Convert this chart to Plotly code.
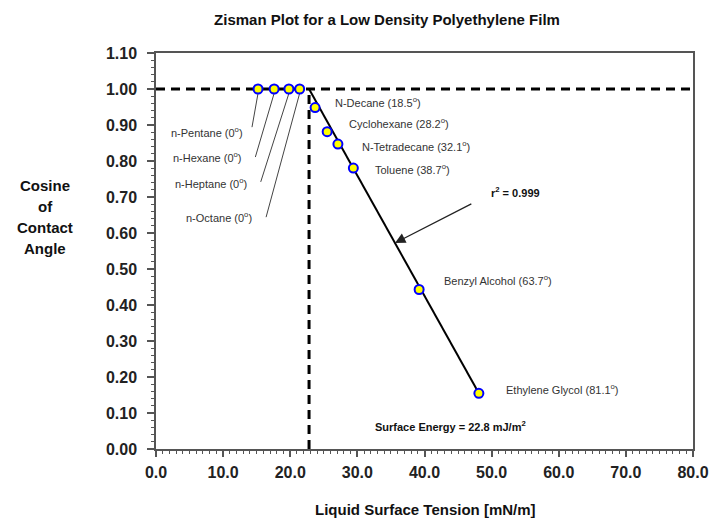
import numpy as np
import plotly.graph_objects as go

# Probe liquids: surface tension (mN/m) and measured contact angle (deg)
alkanes = ["n-Pentane", "n-Hexane", "n-Heptane", "n-Octane"]
alkane_tension = [15.2, 17.6, 19.8, 21.4]
alkane_angle = [0, 0, 0, 0]

liquids = ["N-Decane", "Cyclohexane", "N-Tetradecane", "Toluene",
           "Benzyl Alcohol", "Ethylene Glycol"]
liquid_tension = [23.7, 25.5, 27.1, 29.4, 39.2, 48.1]
liquid_angle = [18.5, 28.2, 32.1, 38.7, 63.7, 81.1]

critical_tension = 22.8   # surface energy, mJ/m^2
r_squared = 0.999

x_ticks = [0, 10, 20, 30, 40, 50, 60, 70, 80]
y_ticks = [0.0, 0.1, 0.2, 0.3, 0.4, 0.5, 0.6, 0.7, 0.8, 0.9, 1.0, 1.1]

alkane_cos = np.cos(np.radians(alkane_angle))
liquid_cos = np.cos(np.radians(liquid_angle))

# Zisman line through the critical tension and the last liquid
slope = (liquid_cos[-1] - 1.0) / (liquid_tension[-1] - critical_tension)
fit_x = [critical_tension, liquid_tension[-1]]
fit_y = [1.0 + slope * (x - critical_tension) for x in fit_x]

FONT = "Arial, 'Liberation Sans', sans-serif"
TXT = "#333333"

# plot area in pixels, used to place the outer titles
PX_L, PX_R, PX_T, PX_B = 156, 693, 53, 449


def px_to_paper(px, py):
    return (px - PX_L) / (PX_R - PX_L), (PX_B - py) / (PX_B - PX_T)


fig = go.Figure()

# reference lines at cos = 1 and at the critical surface tension
fig.add_trace(go.Scatter(x=[0, 80], y=[1.0, 1.0], mode="lines",
                         line=dict(color="black", width=3, dash="9px,6px"),
                         hoverinfo="skip"))
fig.add_trace(go.Scatter(x=[critical_tension, critical_tension], y=[0, 1.0], mode="lines",
                         line=dict(color="black", width=3, dash="9px,6px"),
                         hoverinfo="skip"))

# fitted line
fig.add_trace(go.Scatter(x=fit_x, y=fit_y, mode="lines",
                         line=dict(color="black", width=2), hoverinfo="skip"))

# leader lines from the alkane points to their labels
leader_end_x = [14.3, 14.8, 15.6, 16.4]
leader_end_y = [0.894, 0.811, 0.742, 0.644]
label_y = [0.881, 0.811, 0.739, 0.644]
label_x = [13.3, 13.1, 13.9, 14.6]
for xs, ys, xe, ye in zip(alkane_tension, alkane_cos, leader_end_x, leader_end_y):
    fig.add_trace(go.Scatter(x=[xs, xe], y=[ys - 0.012, ye], mode="lines",
                             line=dict(color="#444444", width=1), hoverinfo="skip"))

marker = dict(size=9, color="#ffff00", line=dict(color="#0000ff", width=2))
fig.add_trace(go.Scatter(x=alkane_tension, y=alkane_cos, mode="markers", marker=marker))
fig.add_trace(go.Scatter(x=liquid_tension, y=liquid_cos, mode="markers", marker=marker))

annotations = []
for name, ang, lx, ly in zip(alkanes, alkane_angle, label_x, label_y):
    annotations.append(dict(x=lx, y=ly, xref="x", yref="y", xanchor="right", yanchor="middle",
                            text=f"{name} ({ang}<sup>o</sup>)", showarrow=False,
                            font=dict(family=FONT, size=11, color=TXT)))

liq_label_x = [26.4, 28.5, 30.4, 32.3, 42.6, 51.9]
liq_label_y = [0.964, 0.906, 0.842, 0.778, 0.469, 0.167]
for name, ang, lx, ly in zip(liquids, liquid_angle, liq_label_x, liq_label_y):
    annotations.append(dict(x=lx, y=ly, xref="x", yref="y", xanchor="left", yanchor="middle",
                            text=f"{name} ({ang}<sup>o</sup>)", showarrow=False,
                            font=dict(family=FONT, size=11, color=TXT)))

annotations.append(dict(x=32.3, y=0.064, xref="x", yref="y", xanchor="left", yanchor="middle",
                        text=f"<b>Surface Energy = {critical_tension} mJ/m<sup>2</sup></b>",
                        showarrow=False, font=dict(family=FONT, size=11, color="#111111")))

# r^2 label with arrow pointing at the fit line
arrow_x = 35.6
arrow_y = 1.0 + slope * (arrow_x - critical_tension)
annotations.append(dict(x=arrow_x, y=arrow_y, xref="x", yref="y",
                        ax=47.2, ay=0.683, axref="x", ayref="y",
                        showarrow=True, arrowhead=2, arrowsize=1.6, arrowwidth=1.3,
                        arrowcolor="#222222", text=""))
annotations.append(dict(x=53.5, y=0.714, xref="x", yref="y", xanchor="center", yanchor="middle",
                        text=f"<b>r<sup>2</sup> = {r_squared}</b>", showarrow=False,
                        font=dict(family=FONT, size=11, color="#111111")))

# y axis title, one word per line
for i, word in enumerate(["Cosine", "of", "Contact", "Angle"]):
    px, py = px_to_paper(45, 185 + 21.3 * i)
    annotations.append(dict(x=px, y=py, xref="paper", yref="paper",
                            xanchor="center", yanchor="middle", text=f"<b>{word}</b>",
                            showarrow=False, font=dict(family=FONT, size=15, color="#111111")))

# x axis title
px, py = px_to_paper(425, 509)
annotations.append(dict(x=px, y=py, xref="paper", yref="paper",
                        xanchor="center", yanchor="middle",
                        text="<b>Liquid Surface Tension [mN/m]</b>", showarrow=False,
                        font=dict(family=FONT, size=15, color="#111111")))

fig.update_layout(
    width=720, height=523,
    margin=dict(l=PX_L, r=720 - PX_R, t=PX_T, b=523 - PX_B),
    paper_bgcolor="white", plot_bgcolor="white",
    showlegend=False,
    title=dict(text="<b>Zisman Plot for a Low Density Polyethylene Film</b>",
               x=387 / 720, y=1 - 20 / 523, xanchor="center", yanchor="middle",
               xref="container", yref="container",
               font=dict(family=FONT, size=15, color="#111111")),
    annotations=annotations,
)

fig.update_xaxes(range=[0, 80], tickvals=x_ticks, ticktext=[f"<b>{v:.1f}</b>" for v in x_ticks],
                 showgrid=False, zeroline=False, showline=True, linecolor="#555555",
                 linewidth=1.5, mirror=True, ticks="outside", ticklen=6, tickwidth=1.5,
                 tickcolor="#555555", ticklabelstandoff=2,
                 tickfont=dict(family=FONT, size=16, color="#222222"),
                 minor=dict(dtick=1, ticks="outside", ticklen=3, tickcolor="#555555", tickwidth=1))
fig.update_yaxes(range=[0, 1.1], tickvals=y_ticks, ticktext=[f"<b>{v:.2f}</b>" for v in y_ticks],
                 showgrid=False, zeroline=False, showline=True, linecolor="#555555",
                 linewidth=1.5, mirror=True, ticks="outside", ticklen=7, tickwidth=1.5,
                 tickcolor="#555555", ticklabelstandoff=7,
                 tickfont=dict(family=FONT, size=16, color="#222222"),
                 minor=dict(dtick=0.02, ticks="outside", ticklen=3, tickcolor="#555555", tickwidth=1))

fig.write_html("out.html")
